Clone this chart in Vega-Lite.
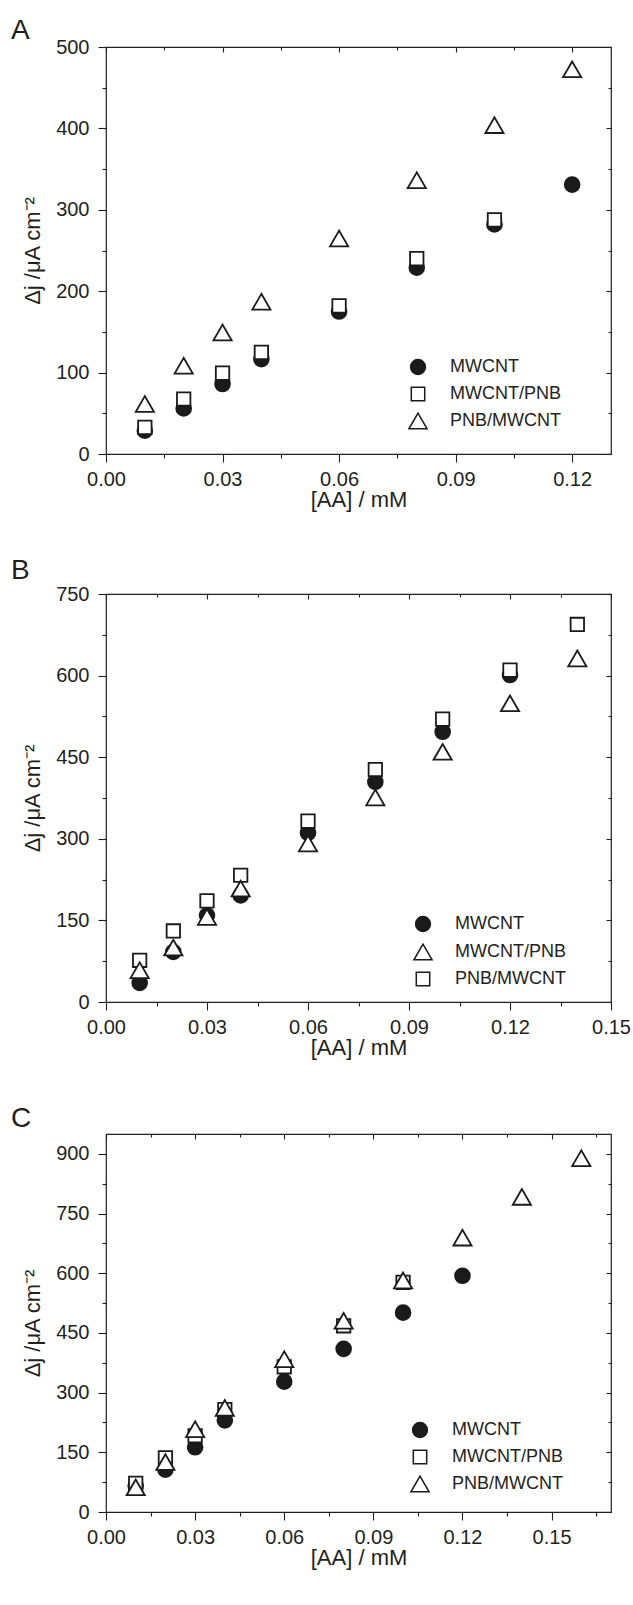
{
  "$schema": "https://vega.github.io/schema/vega-lite/v6.json",
  "background": "white",
  "padding": {"left": 10, "top": 16, "right": 2, "bottom": 4},
  "spacing": 45,
  "datasets": {
    "A": [
      {"c": 0.01, "j": 28.6, "s": "MWCNT"},
      {"c": 0.02, "j": 56, "s": "MWCNT"},
      {"c": 0.03, "j": 86, "s": "MWCNT"},
      {"c": 0.04, "j": 116.6, "s": "MWCNT"},
      {"c": 0.06, "j": 175, "s": "MWCNT"},
      {"c": 0.08, "j": 229, "s": "MWCNT"},
      {"c": 0.10, "j": 282, "s": "MWCNT"},
      {"c": 0.12, "j": 331, "s": "MWCNT"},
      {"c": 0.01, "j": 32.7, "s": "MWCNT/PNB"},
      {"c": 0.02, "j": 67.5, "s": "MWCNT/PNB"},
      {"c": 0.03, "j": 99.4, "s": "MWCNT/PNB"},
      {"c": 0.04, "j": 124.8, "s": "MWCNT/PNB"},
      {"c": 0.06, "j": 182, "s": "MWCNT/PNB"},
      {"c": 0.08, "j": 240, "s": "MWCNT/PNB"},
      {"c": 0.10, "j": 287.6, "s": "MWCNT/PNB"},
      {"c": 0.01, "j": 61.4, "s": "PNB/MWCNT"},
      {"c": 0.02, "j": 108.4, "s": "PNB/MWCNT"},
      {"c": 0.03, "j": 149.3, "s": "PNB/MWCNT"},
      {"c": 0.04, "j": 187, "s": "PNB/MWCNT"},
      {"c": 0.06, "j": 264.7, "s": "PNB/MWCNT"},
      {"c": 0.08, "j": 336.3, "s": "PNB/MWCNT"},
      {"c": 0.10, "j": 404, "s": "PNB/MWCNT"},
      {"c": 0.12, "j": 472.6, "s": "PNB/MWCNT"}
    ],
    "B": [
      {"c": 0.01, "j": 35, "s": "MWCNT"},
      {"c": 0.02, "j": 92, "s": "MWCNT"},
      {"c": 0.03, "j": 159.4, "s": "MWCNT"},
      {"c": 0.04, "j": 196, "s": "MWCNT"},
      {"c": 0.06, "j": 311, "s": "MWCNT"},
      {"c": 0.08, "j": 404.7, "s": "MWCNT"},
      {"c": 0.10, "j": 496.7, "s": "MWCNT"},
      {"c": 0.12, "j": 601, "s": "MWCNT"},
      {"c": 0.01, "j": 76.7, "s": "PNB/MWCNT"},
      {"c": 0.02, "j": 130.6, "s": "PNB/MWCNT"},
      {"c": 0.03, "j": 185.8, "s": "PNB/MWCNT"},
      {"c": 0.04, "j": 233, "s": "PNB/MWCNT"},
      {"c": 0.06, "j": 332.4, "s": "PNB/MWCNT"},
      {"c": 0.08, "j": 427.4, "s": "PNB/MWCNT"},
      {"c": 0.10, "j": 520, "s": "PNB/MWCNT"},
      {"c": 0.12, "j": 610, "s": "PNB/MWCNT"},
      {"c": 0.14, "j": 694, "s": "PNB/MWCNT"},
      {"c": 0.01, "j": 58.3, "s": "MWCNT/PNB"},
      {"c": 0.02, "j": 100, "s": "MWCNT/PNB"},
      {"c": 0.03, "j": 156.4, "s": "MWCNT/PNB"},
      {"c": 0.04, "j": 208.5, "s": "MWCNT/PNB"},
      {"c": 0.06, "j": 291.3, "s": "MWCNT/PNB"},
      {"c": 0.08, "j": 376, "s": "MWCNT/PNB"},
      {"c": 0.10, "j": 459.9, "s": "MWCNT/PNB"},
      {"c": 0.12, "j": 549, "s": "MWCNT/PNB"},
      {"c": 0.14, "j": 631.6, "s": "MWCNT/PNB"}
    ],
    "C": [
      {"c": 0.01, "j": 66, "s": "MWCNT"},
      {"c": 0.02, "j": 106.5, "s": "MWCNT"},
      {"c": 0.03, "j": 162.7, "s": "MWCNT"},
      {"c": 0.04, "j": 230.4, "s": "MWCNT"},
      {"c": 0.06, "j": 327.8, "s": "MWCNT"},
      {"c": 0.08, "j": 410, "s": "MWCNT"},
      {"c": 0.10, "j": 501, "s": "MWCNT"},
      {"c": 0.12, "j": 593.7, "s": "MWCNT"},
      {"c": 0.01, "j": 71.8, "s": "MWCNT/PNB"},
      {"c": 0.02, "j": 136, "s": "MWCNT/PNB"},
      {"c": 0.03, "j": 191.6, "s": "MWCNT/PNB"},
      {"c": 0.04, "j": 257.6, "s": "MWCNT/PNB"},
      {"c": 0.06, "j": 365, "s": "MWCNT/PNB"},
      {"c": 0.08, "j": 468, "s": "MWCNT/PNB"},
      {"c": 0.10, "j": 577, "s": "MWCNT/PNB"},
      {"c": 0.01, "j": 62, "s": "PNB/MWCNT"},
      {"c": 0.02, "j": 125.5, "s": "PNB/MWCNT"},
      {"c": 0.03, "j": 208, "s": "PNB/MWCNT"},
      {"c": 0.04, "j": 261.7, "s": "PNB/MWCNT"},
      {"c": 0.06, "j": 384, "s": "PNB/MWCNT"},
      {"c": 0.08, "j": 480.5, "s": "PNB/MWCNT"},
      {"c": 0.10, "j": 582, "s": "PNB/MWCNT"},
      {"c": 0.12, "j": 689.5, "s": "PNB/MWCNT"},
      {"c": 0.14, "j": 792, "s": "PNB/MWCNT"},
      {"c": 0.16, "j": 889, "s": "PNB/MWCNT"}
    ]
  },
  "vconcat": [
    {
      "title": {"text": "A", "anchor": "start", "frame": "group", "dx": -95, "offset": -8},
      "width": 505,
      "height": 407,
      "data": {"name": "A"},
      "layer": [
        {
          "mark": {"type": "point", "filled": true, "stroke": "#1a1a1a", "strokeWidth": 1.8, "opacity": 1, "fillOpacity": 1, "strokeOpacity": 1},
          "encoding": {
            "x": {"field": "c", "type": "quantitative", "scale": {"domain": [0, 0.13], "nice": false, "zero": false},
              "axis": {"orient": "bottom", "title": "[AA] / mM", "values": [0, 0.015, 0.03, 0.045, 0.06, 0.075, 0.09, 0.105, 0.12],
                "labelExpr": "abs(datum.value/0.03 - round(datum.value/0.03)) < 0.001 ? format(datum.value, '.2f') : ''",
                "tickSize": {"condition": {"test": "abs(datum.value/0.03 - round(datum.value/0.03)) < 0.001", "value": 8}, "value": 4}}},
            "y": {"field": "j", "type": "quantitative", "scale": {"domain": [0, 500], "nice": false},
              "axis": {"orient": "left", "title": "Δj /μA cm⁻²", "values": [0, 50, 100, 150, 200, 250, 300, 350, 400, 450, 500],
                "labelExpr": "datum.value % 100 === 0 ? datum.label : ''",
                "tickSize": {"condition": {"test": "datum.value % 100 === 0", "value": 8}, "value": 4}}},
            "shape": {"field": "s", "type": "nominal", "scale": {"domain": ["MWCNT", "MWCNT/PNB", "PNB/MWCNT"], "range": ["circle", "square", "triangle-up"]},
              "legend": {"legendX": 302, "legendY": 311, "encode": {"symbols": {"update": {"stroke": {"value": "#1a1a1a"}, "strokeWidth": {"value": 1.8}}}}}},
            "fill": {"field": "s", "type": "nominal", "scale": {"domain": ["MWCNT", "MWCNT/PNB", "PNB/MWCNT"], "range": ["#1a1a1a", "#ffffff", "#ffffff"]},
              "legend": {"legendX": 302, "legendY": 311, "encode": {"symbols": {"update": {"stroke": {"value": "#1a1a1a"}, "strokeWidth": {"value": 1.8}}}}}},
            "size": {"field": "s", "type": "nominal", "scale": {"type": "ordinal", "domain": ["MWCNT", "MWCNT/PNB", "PNB/MWCNT"], "range": [220, 180, 330]},
              "legend": {"legendX": 302, "legendY": 311, "encode": {"symbols": {"update": {"stroke": {"value": "#1a1a1a"}, "strokeWidth": {"value": 1.8}}}}}}
          }
        },
        {
          "mark": {"type": "point", "opacity": 0},
          "encoding": {
            "x": {"field": "c", "type": "quantitative", "scale": {"domain": [0, 0.13], "nice": false, "zero": false},
              "axis": {"orient": "top", "title": null, "labels": false, "values": [0, 0.015, 0.03, 0.045, 0.06, 0.075, 0.09, 0.105, 0.12],
                "tickSize": {"condition": {"test": "abs(datum.value/0.03 - round(datum.value/0.03)) < 0.001", "value": -5}, "value": -3}}},
            "y": {"field": "j", "type": "quantitative", "scale": {"domain": [0, 500], "nice": false},
              "axis": {"orient": "right", "title": null, "labels": false, "values": [0, 50, 100, 150, 200, 250, 300, 350, 400, 450, 500],
                "tickSize": {"condition": {"test": "datum.value % 100 === 0", "value": -5}, "value": -3}}}
          }
        }
      ],
      "resolve": {"axis": {"x": "independent", "y": "independent"}}
    },
    {
      "title": {"text": "B", "anchor": "start", "frame": "group", "dx": -95, "offset": -1},
      "width": 505,
      "height": 408,
      "data": {"name": "B"},
      "layer": [
        {
          "mark": {"type": "point", "filled": true, "stroke": "#1a1a1a", "strokeWidth": 1.8, "opacity": 1, "fillOpacity": 1, "strokeOpacity": 1},
          "encoding": {
            "x": {"field": "c", "type": "quantitative", "scale": {"domain": [0, 0.15], "nice": false, "zero": false},
              "axis": {"orient": "bottom", "title": "[AA] / mM", "values": [0, 0.015, 0.03, 0.045, 0.06, 0.075, 0.09, 0.105, 0.12, 0.135, 0.15],
                "labelExpr": "abs(datum.value/0.03 - round(datum.value/0.03)) < 0.001 ? format(datum.value, '.2f') : ''",
                "tickSize": {"condition": {"test": "abs(datum.value/0.03 - round(datum.value/0.03)) < 0.001", "value": 8}, "value": 4}}},
            "y": {"field": "j", "type": "quantitative", "scale": {"domain": [0, 750], "nice": false},
              "axis": {"orient": "left", "title": "Δj /μA cm⁻²", "values": [0, 75, 150, 225, 300, 375, 450, 525, 600, 675, 750],
                "labelExpr": "datum.value % 150 === 0 ? datum.label : ''",
                "tickSize": {"condition": {"test": "datum.value % 150 === 0", "value": 8}, "value": 4}}},
            "shape": {"field": "s", "type": "nominal", "scale": {"domain": ["MWCNT", "MWCNT/PNB", "PNB/MWCNT"], "range": ["circle", "triangle-up", "square"]},
              "legend": {"legendX": 307, "legendY": 321, "encode": {"symbols": {"update": {"stroke": {"value": "#1a1a1a"}, "strokeWidth": {"value": 1.8}}}}}},
            "fill": {"field": "s", "type": "nominal", "scale": {"domain": ["MWCNT", "MWCNT/PNB", "PNB/MWCNT"], "range": ["#1a1a1a", "#ffffff", "#ffffff"]},
              "legend": {"legendX": 307, "legendY": 321, "encode": {"symbols": {"update": {"stroke": {"value": "#1a1a1a"}, "strokeWidth": {"value": 1.8}}}}}},
            "size": {"field": "s", "type": "nominal", "scale": {"type": "ordinal", "domain": ["MWCNT", "MWCNT/PNB", "PNB/MWCNT"], "range": [220, 330, 180]},
              "legend": {"legendX": 307, "legendY": 321, "encode": {"symbols": {"update": {"stroke": {"value": "#1a1a1a"}, "strokeWidth": {"value": 1.8}}}}}}
          }
        },
        {
          "mark": {"type": "point", "opacity": 0},
          "encoding": {
            "x": {"field": "c", "type": "quantitative", "scale": {"domain": [0, 0.15], "nice": false, "zero": false},
              "axis": {"orient": "top", "title": null, "labels": false, "values": [0, 0.015, 0.03, 0.045, 0.06, 0.075, 0.09, 0.105, 0.12, 0.135, 0.15],
                "tickSize": {"condition": {"test": "abs(datum.value/0.03 - round(datum.value/0.03)) < 0.001", "value": -5}, "value": -3}}},
            "y": {"field": "j", "type": "quantitative", "scale": {"domain": [0, 750], "nice": false},
              "axis": {"orient": "right", "title": null, "labels": false, "values": [0, 75, 150, 225, 300, 375, 450, 525, 600, 675, 750],
                "tickSize": {"condition": {"test": "datum.value % 150 === 0", "value": -5}, "value": -3}}}
          }
        }
      ],
      "resolve": {"axis": {"x": "independent", "y": "independent"}}
    },
    {
      "title": {"text": "C", "anchor": "start", "frame": "group", "dx": -95, "offset": 0},
      "width": 505,
      "height": 378,
      "data": {"name": "C"},
      "layer": [
        {
          "mark": {"type": "point", "filled": true, "stroke": "#1a1a1a", "strokeWidth": 1.8, "opacity": 1, "fillOpacity": 1, "strokeOpacity": 1},
          "encoding": {
            "x": {"field": "c", "type": "quantitative", "scale": {"domain": [0, 0.17], "nice": false, "zero": false},
              "axis": {"orient": "bottom", "title": "[AA] / mM", "values": [0, 0.015, 0.03, 0.045, 0.06, 0.075, 0.09, 0.105, 0.12, 0.135, 0.15, 0.165],
                "labelExpr": "abs(datum.value/0.03 - round(datum.value/0.03)) < 0.001 ? format(datum.value, '.2f') : ''",
                "tickSize": {"condition": {"test": "abs(datum.value/0.03 - round(datum.value/0.03)) < 0.001", "value": 8}, "value": 4}}},
            "y": {"field": "j", "type": "quantitative", "scale": {"domain": [0, 950], "nice": false},
              "axis": {"orient": "left", "title": "Δj /μA cm⁻²", "values": [0, 75, 150, 225, 300, 375, 450, 525, 600, 675, 750, 825, 900],
                "labelExpr": "datum.value % 150 === 0 ? datum.label : ''",
                "tickSize": {"condition": {"test": "datum.value % 150 === 0", "value": 8}, "value": 4}}},
            "shape": {"field": "s", "type": "nominal", "scale": {"domain": ["MWCNT", "MWCNT/PNB", "PNB/MWCNT"], "range": ["circle", "square", "triangle-up"]},
              "legend": {"legendX": 304, "legendY": 287, "encode": {"symbols": {"update": {"stroke": {"value": "#1a1a1a"}, "strokeWidth": {"value": 1.8}}}}}},
            "fill": {"field": "s", "type": "nominal", "scale": {"domain": ["MWCNT", "MWCNT/PNB", "PNB/MWCNT"], "range": ["#1a1a1a", "#ffffff", "#ffffff"]},
              "legend": {"legendX": 304, "legendY": 287, "encode": {"symbols": {"update": {"stroke": {"value": "#1a1a1a"}, "strokeWidth": {"value": 1.8}}}}}},
            "size": {"field": "s", "type": "nominal", "scale": {"type": "ordinal", "domain": ["MWCNT", "MWCNT/PNB", "PNB/MWCNT"], "range": [220, 180, 330]},
              "legend": {"legendX": 304, "legendY": 287, "encode": {"symbols": {"update": {"stroke": {"value": "#1a1a1a"}, "strokeWidth": {"value": 1.8}}}}}}
          }
        },
        {
          "mark": {"type": "point", "opacity": 0},
          "encoding": {
            "x": {"field": "c", "type": "quantitative", "scale": {"domain": [0, 0.17], "nice": false, "zero": false},
              "axis": {"orient": "top", "title": null, "labels": false, "values": [0, 0.015, 0.03, 0.045, 0.06, 0.075, 0.09, 0.105, 0.12, 0.135, 0.15, 0.165],
                "tickSize": {"condition": {"test": "abs(datum.value/0.03 - round(datum.value/0.03)) < 0.001", "value": -5}, "value": -3}}},
            "y": {"field": "j", "type": "quantitative", "scale": {"domain": [0, 950], "nice": false},
              "axis": {"orient": "right", "title": null, "labels": false, "values": [0, 75, 150, 225, 300, 375, 450, 525, 600, 675, 750, 825, 900],
                "tickSize": {"condition": {"test": "datum.value % 150 === 0", "value": -5}, "value": -3}}}
          }
        }
      ],
      "resolve": {"axis": {"x": "independent", "y": "independent"}}
    }
  ],
  "resolve": {"scale": {"shape": "independent", "fill": "independent", "size": "independent"}, "legend": {"shape": "independent", "fill": "independent", "size": "independent"}},
  "config": {
    "font": "Liberation Sans",
    "view": {"stroke": "#231f20", "strokeWidth": 1.2},
    "axis": {"domain": false, "grid": false, "tickColor": "#231f20", "tickWidth": 1.1, "labelColor": "#231f20", "labelFontSize": 20, "labelPadding": 7, "titleColor": "#231f20", "titleFontSize": 22, "titleFontWeight": "normal", "titlePadding": 0, "labelFlush": false, "labelOverlap": false},
    "axisLeft": {"titlePadding": 11, "labelPadding": 9},
    "title": {"fontSize": 28, "fontWeight": "normal", "color": "#231f20", "font": "Liberation Sans"},
    "legend": {"orient": "none", "title": null, "labelFontSize": 18, "labelColor": "#231f20", "labelFont": "Liberation Sans", "labelOffset": 22, "rowPadding": 6, "padding": 0}
  }
}
